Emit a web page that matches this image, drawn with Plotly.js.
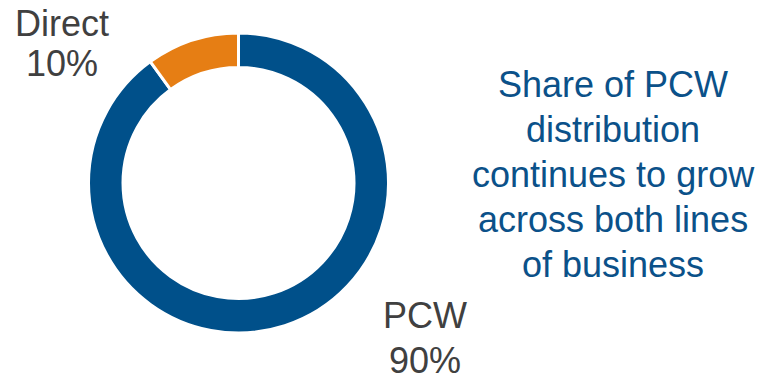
<!DOCTYPE html>
<html>
<head>
<meta charset="utf-8">
<script src="https://cdn.plot.ly/plotly-3.0.1.min.js"></script>
<style>html,body{margin:0;padding:0;background:#fff;}#chart{width:763px;height:377px;}</style>
</head>
<body>
<div id="chart"></div>
<script>
var categories = ["PCW", "Direct"];
var shares = [90, 10];
var sliceColors = ["#00508a", "#e67e14"];
var noteLines = ["Share of PCW", "distribution", "continues to grow", "across both lines", "of business"];

var W = 763, H = 377;
function py(px) { return 1 - px / H; }
function pxx(px) { return px / W; }

var annotations = [];
var labelPos = [
  {x: 425, yName: 315.5, yPct: 360},
  {x: 62, yName: 23.5, yPct: 63.5}
];
var total = shares.reduce(function(a, b) { return a + b; }, 0);
var labelFont = {family: 'Liberation Sans, Arial, sans-serif', size: 36, color: '#404040'};
categories.forEach(function(c, i) {
  var p = labelPos[i];
  annotations.push({text: c, x: pxx(p.x), y: py(p.yName), xref: 'paper', yref: 'paper',
    xanchor: 'center', yanchor: 'middle', showarrow: false, font: labelFont});
  annotations.push({text: Math.round(shares[i] / total * 100) + '%', x: pxx(p.x), y: py(p.yPct), xref: 'paper', yref: 'paper',
    xanchor: 'center', yanchor: 'middle', showarrow: false, font: labelFont});
});
noteLines.forEach(function(t, i) {
  annotations.push({text: t, x: pxx(613), y: py(84.5 + 45 * i), xref: 'paper', yref: 'paper',
    xanchor: 'center', yanchor: 'middle', showarrow: false,
    font: {family: 'Liberation Sans, Arial, sans-serif', size: 36, color: '#0b5189'}});
});

var trace = {
  type: 'pie',
  labels: categories,
  values: shares,
  hole: 0.77,
  sort: false,
  direction: 'clockwise',
  rotation: 0,
  textinfo: 'none',
  hoverinfo: 'label+percent',
  marker: {colors: sliceColors, line: {color: '#ffffff', width: 3}},
  domain: {x: [pxx(238.5 - 150), pxx(238.5 + 150)], y: [py(183 + 150), py(183 - 150)]},
  showlegend: false
};

var layout = {
  width: W, height: H,
  margin: {l: 0, r: 0, t: 0, b: 0},
  paper_bgcolor: '#ffffff',
  plot_bgcolor: '#ffffff',
  showlegend: false,
  annotations: annotations
};

Plotly.newPlot('chart', [trace], layout, {displayModeBar: false, staticPlot: true});
</script>
</body>
</html>
